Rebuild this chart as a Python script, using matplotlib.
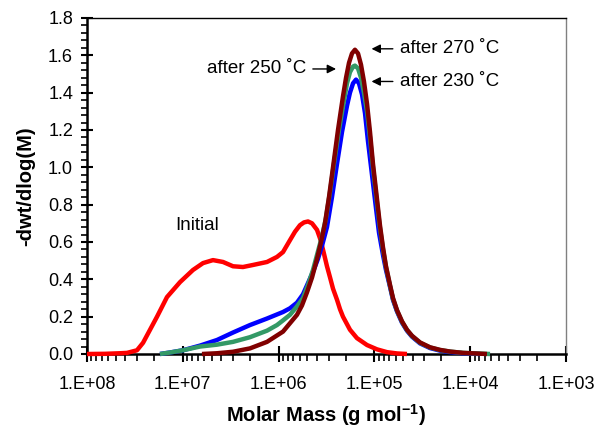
import numpy as np
import matplotlib
matplotlib.use("Agg")
import matplotlib.pyplot as plt
from matplotlib.ticker import FixedLocator, FuncFormatter, AutoMinorLocator, LogLocator, NullFormatter

plt.rcParams['font.family'] = ['Liberation Sans', 'DejaVu Sans']
plt.rcParams['mathtext.fontset'] = 'custom'
plt.rcParams['mathtext.bf'] = 'Liberation Sans:bold'
plt.rcParams['mathtext.rm'] = 'Liberation Sans'

# log10 of molar mass (g/mol) and -dwt/dlog(M) for each sample
logm_initial = [8.000, 7.812, 7.656, 7.582, 7.478, 7.415, 7.342, 7.269, 7.165, 7.029,
                6.894, 6.789, 6.685, 6.580, 6.476, 6.372, 6.267, 6.121, 6.017, 5.954,
                5.881, 5.829, 5.777, 5.735, 5.693, 5.651, 5.599, 5.568, 5.537, 5.495,
                5.463, 5.432, 5.390, 5.359, 5.328, 5.255, 5.182, 5.077, 4.973, 4.869,
                4.764, 4.660]
w_initial = [0.0, 0.001, 0.004, 0.006, 0.02, 0.06, 0.13, 0.20, 0.305, 0.385,
             0.45, 0.487, 0.503, 0.493, 0.47, 0.466, 0.477, 0.493, 0.52, 0.546,
             0.61, 0.655, 0.69, 0.705, 0.71, 0.70, 0.665, 0.62, 0.56, 0.47,
             0.41, 0.35, 0.29, 0.24, 0.20, 0.13, 0.085, 0.048, 0.025, 0.01,
             0.003, 0.0]

logm_230 = [7.238, 7.134, 6.998, 6.820, 6.643, 6.476, 6.299, 6.121, 5.954, 5.881,
            5.808, 5.745, 5.693, 5.641, 5.589, 5.547, 5.495, 5.443, 5.390, 5.338,
            5.286, 5.255, 5.223, 5.192, 5.161, 5.129, 5.098, 5.067, 5.025, 4.983,
            4.952, 4.910, 4.879, 4.837, 4.806, 4.764, 4.712, 4.660, 4.608, 4.524,
            4.420, 4.315, 4.211, 4.075, 3.898]
w_230 = [0.0, 0.008, 0.02, 0.045, 0.075, 0.115, 0.155, 0.19, 0.225, 0.245,
         0.275, 0.32, 0.38, 0.44, 0.51, 0.58, 0.68, 0.84, 1.02, 1.19,
         1.33, 1.40, 1.45, 1.47, 1.45, 1.39, 1.29, 1.14, 0.96, 0.78,
         0.65, 0.53, 0.45, 0.36, 0.29, 0.228, 0.168, 0.125, 0.093, 0.057,
         0.032, 0.018, 0.01, 0.004, 0.0]

logm_250 = [7.238, 7.134, 6.998, 6.820, 6.643, 6.476, 6.299, 6.121, 6.017, 5.954,
            5.881, 5.808, 5.745, 5.693, 5.641, 5.589, 5.547, 5.505, 5.463, 5.422,
            5.370, 5.317, 5.286, 5.255, 5.223, 5.203, 5.171, 5.140, 5.109, 5.077,
            5.046, 5.015, 4.973, 4.942, 4.910, 4.879, 4.837, 4.806, 4.764, 4.712,
            4.660, 4.608, 4.524, 4.420, 4.315, 4.211, 4.075, 3.793]
w_250 = [0.0, 0.008, 0.02, 0.04, 0.05, 0.065, 0.09, 0.125, 0.155, 0.18,
         0.21, 0.255, 0.30, 0.37, 0.45, 0.55, 0.63, 0.73, 0.87, 1.02,
         1.20, 1.36, 1.45, 1.51, 1.54, 1.545, 1.53, 1.48, 1.40, 1.30,
         1.16, 1.00, 0.81, 0.675, 0.56, 0.465, 0.365, 0.295, 0.232, 0.172,
         0.128, 0.096, 0.06, 0.035, 0.021, 0.013, 0.006, 0.0]

logm_270 = [6.800, 6.643, 6.476, 6.299, 6.121, 5.954, 5.881, 5.808, 5.756, 5.704,
            5.651, 5.599, 5.557, 5.516, 5.474, 5.432, 5.380, 5.328, 5.296, 5.265,
            5.234, 5.203, 5.171, 5.140, 5.109, 5.077, 5.046, 5.015, 4.973, 4.942,
            4.910, 4.879, 4.837, 4.806, 4.764, 4.712, 4.660, 4.608, 4.524, 4.420,
            4.315, 4.211, 4.075, 3.825]
w_270 = [0.0, 0.004, 0.012, 0.03, 0.065, 0.12, 0.165, 0.21, 0.26, 0.33,
         0.41, 0.51, 0.60, 0.70, 0.84, 1.00, 1.20, 1.38, 1.48, 1.56,
         1.61, 1.63, 1.61, 1.55, 1.46, 1.34, 1.19, 1.02, 0.83, 0.69,
         0.57, 0.47, 0.37, 0.30, 0.235, 0.175, 0.13, 0.098, 0.062, 0.036,
         0.022, 0.013, 0.006, 0.0]

x_ticks = [1e8, 1e7, 1e6, 1e5, 1e4, 1e3]

fig = plt.figure(figsize=(5.99, 4.28), dpi=100)
ax = fig.add_axes([87 / 599, 1 - 354 / 428, (566 - 87) / 599, (354 - 18) / 428])

series = [
    (logm_initial, w_initial, '#ff0000'),
    (logm_230, w_230, '#0000ff'),
    (logm_250, w_250, '#339966'),
    (logm_270, w_270, '#800000'),
]
for lm, w, c in series:
    ax.plot(10 ** np.asarray(lm), w, color=c, lw=3.2,
            solid_joinstyle='round', solid_capstyle='butt', clip_on=False, zorder=3)

ax.set_xscale('log')
ax.set_xlim(1e8, 1e3)
ax.set_ylim(0, 1.8)

ax.xaxis.set_major_locator(FixedLocator(x_ticks))
ax.xaxis.set_major_formatter(FuncFormatter(lambda v, p: "1.E+%02d" % round(np.log10(v))))
ax.xaxis.set_minor_locator(LogLocator(base=10, subs=np.arange(2, 10)))
ax.xaxis.set_minor_formatter(NullFormatter())
ax.set_yticks(np.arange(0, 1.81, 0.2))
ax.yaxis.set_major_formatter(FuncFormatter(lambda v, p: "%.1f" % v))
ax.yaxis.set_minor_locator(AutoMinorLocator(5))

ax.tick_params(axis='x', which='major', direction='inout', length=11, width=1.5,
               labelsize=13, pad=10, top=False)
ax.tick_params(axis='x', which='minor', direction='out', length=5, width=1.2, top=False)
ax.tick_params(axis='y', which='major', direction='inout', length=8, width=1.5,
               labelsize=13, pad=6, right=False)
ax.tick_params(axis='y', which='minor', direction='out', length=4, width=1.2, right=False)

for s in ('left', 'bottom'):
    ax.spines[s].set_linewidth(1.8)
    ax.spines[s].set_color('black')
ax.spines['top'].set_linewidth(1.0)
ax.spines['top'].set_color('black')
ax.spines['right'].set_linewidth(1.0)
ax.spines['right'].set_color('#808080')

ax.set_xlabel('Molar Mass (g mol$^{\\mathbf{-1}}$)', fontsize=14.5, fontweight='bold', labelpad=7)
ax.set_ylabel('-dwt/dlog(M)', fontsize=14.5, fontweight='bold', labelpad=9)

tfs = 13.5
ax.text(10 ** 6.852, 0.69, 'Initial', fontsize=tfs, ha='center', va='center')
arrow = dict(arrowstyle='-|>', color='black', lw=1.0, mutation_scale=13,
             shrinkA=3, shrinkB=0)
ax.annotate('after 250 ˚C', xy=(10 ** 5.40, 1.527), xytext=(10 ** 5.715, 1.527),
            fontsize=tfs, ha='right', va='center', arrowprops=arrow)
ax.annotate('after 270 ˚C', xy=(10 ** 5.03, 1.635), xytext=(10 ** 4.735, 1.635),
            fontsize=tfs, ha='left', va='center', arrowprops=arrow)
ax.annotate('after 230 ˚C', xy=(10 ** 5.03, 1.46), xytext=(10 ** 4.735, 1.46),
            fontsize=tfs, ha='left', va='center', arrowprops=arrow)

fig.savefig('out.png', dpi=100)
